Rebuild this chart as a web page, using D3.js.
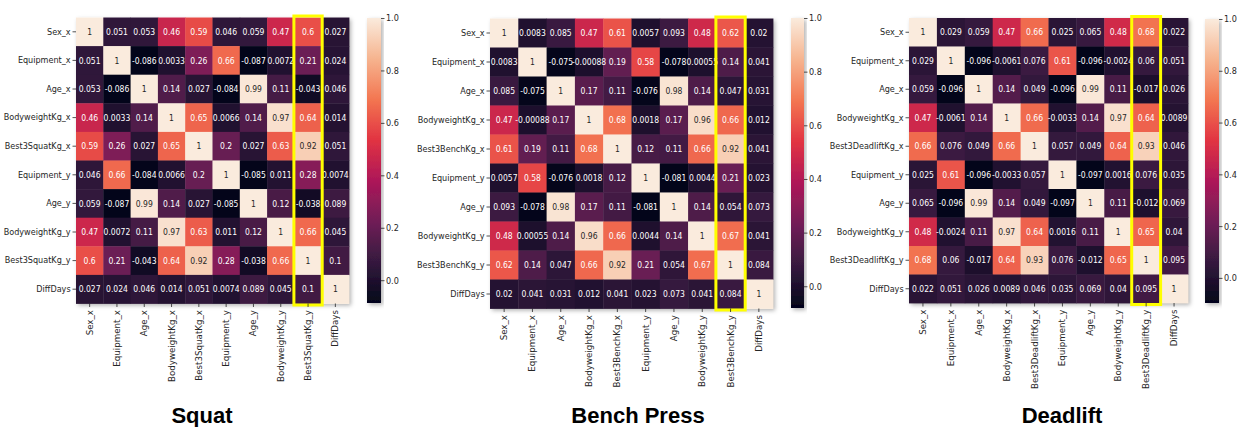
<!DOCTYPE html>
<html>
<head>
<meta charset="utf-8">
<script src="https://cdn.jsdelivr.net/npm/d3@7"></script>
<style>
  body { margin: 0; background: #fff; }
  svg { display: block; font-family: "DejaVu Sans", sans-serif; }
</style>
</head>
<body>
<div id="chart"></div>
<script>

const squatLabels = ['Sex_x', 'Equipment_x', 'Age_x', 'BodyweightKg_x', 'Best3SquatKg_x', 'Equipment_y', 'Age_y', 'BodyweightKg_y', 'Best3SquatKg_y', 'DiffDays']
const benchLabels = ['Sex_x', 'Equipment_x', 'Age_x', 'BodyweightKg_x', 'Best3BenchKg_x', 'Equipment_y', 'Age_y', 'BodyweightKg_y', 'Best3BenchKg_y', 'DiffDays']
const deadliftLabels = ['Sex_x', 'Equipment_x', 'Age_x', 'BodyweightKg_x', 'Best3DeadliftKg_x', 'Equipment_y', 'Age_y', 'BodyweightKg_y', 'Best3DeadliftKg_y', 'DiffDays']

const squatValues = [
  [1, 0.051, 0.053, 0.46, 0.59, 0.046, 0.059, 0.47, 0.6, 0.027],
  [0.051, 1, -0.086, 0.0033, 0.26, 0.66, -0.087, 0.0072, 0.21, 0.024],
  [0.053, -0.086, 1, 0.14, 0.027, -0.084, 0.99, 0.11, -0.043, 0.046],
  [0.46, 0.0033, 0.14, 1, 0.65, 0.0066, 0.14, 0.97, 0.64, 0.014],
  [0.59, 0.26, 0.027, 0.65, 1, 0.2, 0.027, 0.63, 0.92, 0.051],
  [0.046, 0.66, -0.084, 0.0066, 0.2, 1, -0.085, 0.011, 0.28, 0.0074],
  [0.059, -0.087, 0.99, 0.14, 0.027, -0.085, 1, 0.12, -0.038, 0.089],
  [0.47, 0.0072, 0.11, 0.97, 0.63, 0.011, 0.12, 1, 0.66, 0.045],
  [0.6, 0.21, -0.043, 0.64, 0.92, 0.28, -0.038, 0.66, 1, 0.1],
  [0.027, 0.024, 0.046, 0.014, 0.051, 0.0074, 0.089, 0.045, 0.1, 1]
]

const benchValues = [
  [1, 0.0083, 0.085, 0.47, 0.61, 0.0057, 0.093, 0.48, 0.62, 0.02],
  [0.0083, 1, -0.075, -0.00088, 0.19, 0.58, -0.078, 0.00055, 0.14, 0.041],
  [0.085, -0.075, 1, 0.17, 0.11, -0.076, 0.98, 0.14, 0.047, 0.031],
  [0.47, -0.00088, 0.17, 1, 0.68, 0.0018, 0.17, 0.96, 0.66, 0.012],
  [0.61, 0.19, 0.11, 0.68, 1, 0.12, 0.11, 0.66, 0.92, 0.041],
  [0.0057, 0.58, -0.076, 0.0018, 0.12, 1, -0.081, 0.0044, 0.21, 0.023],
  [0.093, -0.078, 0.98, 0.17, 0.11, -0.081, 1, 0.14, 0.054, 0.073],
  [0.48, 0.00055, 0.14, 0.96, 0.66, 0.0044, 0.14, 1, 0.67, 0.041],
  [0.62, 0.14, 0.047, 0.66, 0.92, 0.21, 0.054, 0.67, 1, 0.084],
  [0.02, 0.041, 0.031, 0.012, 0.041, 0.023, 0.073, 0.041, 0.084, 1]
]

const deadliftValues = [
  [1, 0.029, 0.059, 0.47, 0.66, 0.025, 0.065, 0.48, 0.68, 0.022],
  [0.029, 1, -0.096, -0.0061, 0.076, 0.61, -0.096, -0.0024, 0.06, 0.051],
  [0.059, -0.096, 1, 0.14, 0.049, -0.096, 0.99, 0.11, -0.017, 0.026],
  [0.47, -0.0061, 0.14, 1, 0.66, -0.0033, 0.14, 0.97, 0.64, 0.0089],
  [0.66, 0.076, 0.049, 0.66, 1, 0.057, 0.049, 0.64, 0.93, 0.046],
  [0.025, 0.61, -0.096, -0.0033, 0.057, 1, -0.097, 0.0016, 0.076, 0.035],
  [0.065, -0.096, 0.99, 0.14, 0.049, -0.097, 1, 0.11, -0.012, 0.069],
  [0.48, -0.0024, 0.11, 0.97, 0.64, 0.0016, 0.11, 1, 0.65, 0.04],
  [0.68, 0.06, -0.017, 0.64, 0.93, 0.076, -0.012, 0.65, 1, 0.095],
  [0.022, 0.051, 0.026, 0.0089, 0.046, 0.035, 0.069, 0.04, 0.095, 1]
]

const titles = ['Squat', 'Bench Press', 'Deadlift']
const highlighted = ['Best3SquatKg_y', 'Best3BenchKg_y', 'Best3DeadliftKg_y']
const colorbarTicks = [0, 0.2, 0.4, 0.6, 0.8, 1.0]

// seaborn "rocket" sampled
const rocket = ['#03051a', '#35193e', '#701f57', '#ad1759', '#e13342', '#f37651', '#f6b48f', '#faebdd']

const width = 1239
const height = 427
const textColor = '#262626'

// grid box, colorbar box, title position for each panel
const layout = [
  {x: 76, y: 17.5, w: 273, h: 286, cbX: 367, cbY: 18, cbW: 14, cbH: 285, tx: 202},
  {x: 490, y: 18.5, w: 283, h: 290, cbX: 791, cbY: 18, cbW: 13, cbH: 290, tx: 638},
  {x: 909, y: 18, w: 279, h: 285, cbX: 1205, cbY: 19, cbW: 14, cbH: 284, tx: 1062}
]

const panels = [
  {labels: squatLabels, values: squatValues},
  {labels: benchLabels, values: benchValues},
  {labels: deadliftLabels, values: deadliftValues}
].map((d, i) => Object.assign(d, layout[i], {title: titles[i], hl: highlighted[i]}))

const locale = d3.formatLocale({decimal: '.', thousands: ',', grouping: [3], currency: ['', ''], minus: '-'})
const fmt = locale.format('.2~g')

// seaborn picks dark or white annotation text by relative luminance
const luminance = c => {
  const rgb = d3.rgb(c)
  const lin = v => { v /= 255; return v <= 0.03928 ? v / 12.92 : Math.pow((v + 0.055) / 1.055, 2.4) }
  return 0.2126 * lin(rgb.r) + 0.7152 * lin(rgb.g) + 0.0722 * lin(rgb.b)
}

const svg = d3.select('#chart')
  .append('svg')
  .attr('width', width)
  .attr('height', height)

const defs = svg.append('defs')
defs.append('filter')
    .attr('id', 'shadow')
    .attr('x', '-10%').attr('y', '-10%').attr('width', '130%').attr('height', '130%')
  .append('feDropShadow')
    .attr('dx', 2).attr('dy', 2).attr('stdDeviation', 2)
    .attr('flood-color', '#000').attr('flood-opacity', 0.3)

panels.forEach((p, pi) => {
  const vmin = d3.min(p.values.flat())
  const vmax = 1
  const color = d3.scaleLinear()
    .domain(rocket.map((c, i) => vmin + (vmax - vmin) * i / (rocket.length - 1)))
    .range(rocket)
    .interpolate(d3.interpolateRgb)

  const x = d3.scaleBand().domain(p.labels).range([p.x, p.x + p.w])
  const y = d3.scaleBand().domain(p.labels).range([p.y, p.y + p.h])

  const cells = []
  p.values.forEach((row, r) => row.forEach((v, c) => cells.push({row: p.labels[r], col: p.labels[c], value: v})))

  const g = svg.append('g')

  g.append('rect')
      .attr('x', p.x).attr('y', p.y)
      .attr('width', p.w).attr('height', p.h)
      .attr('fill', '#fff')
      .attr('filter', 'url(#shadow)')

  g.append('g')
    .selectAll('rect')
    .data(cells)
    .join('rect')
      .attr('x', d => x(d.col))
      .attr('y', d => y(d.row))
      .attr('width', x.bandwidth() + 0.4)
      .attr('height', y.bandwidth() + 0.4)
      .attr('fill', d => color(d.value))

  g.append('g')
    .selectAll('text')
    .data(cells)
    .join('text')
      .attr('transform', d => `translate(${x(d.col) + x.bandwidth() / 2},${y(d.row) + y.bandwidth() / 2}) scale(0.85,1)`)
      .attr('text-anchor', 'middle')
      .attr('dy', '0.35em')
      .style('font-size', '9px')
      .attr('fill', d => luminance(color(d.value)) > 0.408 ? textColor : '#fff')
      .text(d => fmt(d.value))

  // highlighted column
  g.append('rect')
      .attr('x', x(p.hl) - 0.5)
      .attr('y', p.y - 1.5)
      .attr('width', x.bandwidth() + 1)
      .attr('height', p.h + 3)
      .attr('fill', 'none')
      .attr('stroke', '#ffff00')
      .attr('stroke-width', 3)

  const yAxis = g.append('g')
      .attr('transform', `translate(${p.x},0)`)
      .call(d3.axisLeft(y).tickSize(3.5).tickPadding(2.5))
  yAxis.select('.domain').remove()
  yAxis.selectAll('line').attr('stroke', textColor).attr('stroke-width', 0.8)
  yAxis.selectAll('text')
      .attr('fill', textColor)
      .attr('font-family', '"DejaVu Sans", sans-serif')
      .style('font-size', '9px')
      .attr('transform', 'scale(0.9,1)')

  const xAxis = g.append('g')
      .attr('transform', `translate(0,${p.y + p.h})`)
      .call(d3.axisBottom(x).tickSize(3.5))
  xAxis.select('.domain').remove()
  xAxis.selectAll('line').attr('stroke', textColor).attr('stroke-width', 0.8)
  xAxis.selectAll('text')
      .attr('fill', textColor)
      .attr('font-family', '"DejaVu Sans", sans-serif')
      .style('font-size', '8.7px')
      .attr('text-anchor', 'end')
      .attr('transform', 'rotate(-90)')
      .attr('x', -6.5)
      .attr('y', 0)
      .attr('dy', '0.35em')

  // colorbar
  const cb = d3.scaleLinear().domain([vmin, vmax]).range([p.cbY + p.cbH, p.cbY])
  const gradId = 'grad' + pi
  const grad = defs.append('linearGradient')
      .attr('id', gradId)
      .attr('x1', 0).attr('y1', 1).attr('x2', 0).attr('y2', 0)
  grad.selectAll('stop')
    .data(color.domain())
    .join('stop')
      .attr('offset', d => (d - vmin) / (vmax - vmin))
      .attr('stop-color', d => color(d))

  g.append('rect')
      .attr('x', p.cbX).attr('y', p.cbY)
      .attr('width', p.cbW).attr('height', p.cbH)
      .attr('fill', `url(#${gradId})`)
      .attr('filter', 'url(#shadow)')

  const cbAxis = g.append('g')
      .attr('transform', `translate(${p.cbX + p.cbW},0)`)
      .call(d3.axisRight(cb).tickValues(colorbarTicks).tickFormat(d3.format('.1f')).tickSize(3.5).tickPadding(2))
  cbAxis.select('.domain').remove()
  cbAxis.selectAll('line').attr('stroke', textColor).attr('stroke-width', 0.8)
  cbAxis.selectAll('text')
      .attr('fill', textColor)
      .attr('font-family', '"DejaVu Sans", sans-serif')
      .style('font-size', '9px')
      .attr('transform', 'scale(0.9,1)')

  svg.append('text')
      .attr('x', p.tx)
      .attr('y', 423)
      .attr('text-anchor', 'middle')
      .style('font-family', '"Liberation Sans", Arial, sans-serif')
      .style('font-weight', 'bold')
      .style('font-size', '22px')
      .attr('fill', '#000')
      .text(p.title)
})

</script>
</body>
</html>
